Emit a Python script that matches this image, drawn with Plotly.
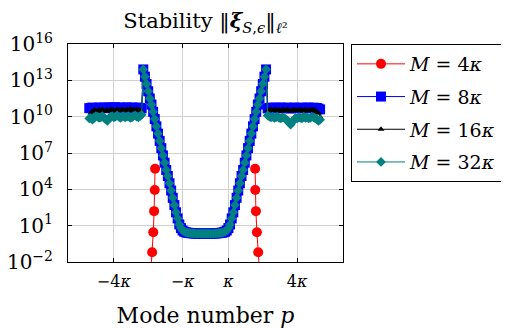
import plotly.graph_objects as go

# ---------------- data ----------------
KAPPA = 14                      # mode numbers per kappa
modes = list(range(-71, 71))    # mode numbers p used by the dense series

# log10 of ||xi|| on the V-shaped core (p = -38 ... 37), shared shape
left_arm = [13.9, 13.3, 12.7, 12.1, 11.5, 11.0, 10.4, 9.8, 9.2, 8.6, 8.0, 7.4, 6.8,
            6.2, 5.6, 5.1, 4.5, 3.9, 3.3, 2.7, 2.1, 1.6, 1.1, 0.8, 0.6, 0.5, 0.45]
bottom = [0.42, 0.40, 0.38, 0.37, 0.36, 0.35, 0.35, 0.34, 0.34, 0.34, 0.34,
          0.34, 0.34, 0.34, 0.34, 0.35, 0.35, 0.36, 0.37, 0.38, 0.40, 0.42]
right_arm = [0.45, 0.5, 0.6, 0.8, 1.1, 1.6, 2.1, 2.7, 3.3, 3.9, 4.5, 5.1, 5.6, 6.2,
             6.8, 7.4, 8.0, 8.6, 9.2, 9.8, 10.4, 11.0, 11.5, 12.1, 12.7, 13.3, 13.9]

# plateaus (log10), p = -71 ... -39 and p = 38 ... 70
m8_left = [10.7, 10.72, 10.75, 10.7, 10.68, 10.72, 10.75, 10.7, 10.73, 10.75, 10.7,
           10.72, 10.76, 10.74, 10.7, 10.75, 10.78, 10.72, 10.7, 10.75, 10.72, 10.7,
           10.74, 10.76, 10.72, 10.7, 10.75, 10.73, 10.7, 10.72, 10.75, 10.7, 10.68]
m8_right = [10.68, 10.72, 10.75, 10.7, 10.72, 10.74, 10.7, 10.72, 10.75, 10.73, 10.7,
            10.72, 10.74, 10.7, 10.68, 10.72, 10.75, 10.7, 10.72, 10.73, 10.7, 10.74,
            10.72, 10.7, 10.73, 10.75, 10.7, 10.72, 10.74, 10.7, 10.72, 10.66, 10.6]
m16_left = [10.0, 10.3, 10.45, 10.55, 10.5, 10.45, 10.55, 10.5, 10.6, 10.45, 10.5,
            10.55, 10.45, 10.6, 10.5, 10.55, 10.45, 10.6, 10.55, 10.5, 10.6, 10.5,
            10.55, 10.6, 10.5, 10.65, 10.55, 10.6, 10.5, 10.6, 10.55, 10.5, 10.45]
m16_right = [10.5, 10.55, 10.6, 10.5, 10.55, 10.6, 10.5, 10.55, 10.45, 10.6, 10.55,
             10.5, 10.6, 10.5, 10.45, 10.55, 10.6, 10.5, 10.55, 10.5, 10.6, 10.55,
             10.45, 10.6, 10.5, 10.55, 10.5, 10.6, 10.45, 10.55, 10.4, 10.3, 10.0]
m32_left = [9.85, 9.9, 9.75, 9.95, 10.05, 10.0, 9.9, 9.95, 10.05, 9.9, 9.8,
            9.65, 9.85, 10.0, 10.05, 9.95, 10.0, 10.1, 10.0, 9.9, 10.0, 10.05,
            9.95, 10.0, 10.05, 9.9, 9.95, 10.05, 10.1, 10.0, 9.95, 10.05, 10.15]
m32_right = [10.1, 10.0, 9.95, 10.0, 9.9, 9.95, 10.0, 9.9, 9.85, 9.95, 9.9,
             9.8, 9.7, 9.5, 9.35, 9.55, 9.75, 9.9, 9.85, 9.95, 9.9, 9.85,
             10.0, 9.9, 9.95, 9.85, 9.9, 10.0, 9.95, 9.85, 9.8, 9.65, 9.75]

# M = 4 kappa: two steep branches (mode number, log10 value)
m4_x = [-33.5, -32.6, -31.9, -31.4, -31.0, -30.8, None, 30.3, 30.4, 30.8, 31.4, 32.2, 33.1]
m4_log = [-2.95, -1.2, 0.45, 2.2, 3.95, 5.7, None, 5.7, 3.95, 2.2, 0.45, -1.2, -2.95]

labels = ["<i>M</i> = 4<i>κ</i>", "<i>M</i> = 8<i>κ</i>",
          "<i>M</i> = 16<i>κ</i>", "<i>M</i> = 32<i>κ</i>"]
x_tick_mult = [-4, -1, 1, 4]
x_tick_text = ["−4<i>κ</i>", "−<i>κ</i>", "<i>κ</i>", "4<i>κ</i>"]
y_tick_exp = [-2, 1, 4, 7, 10, 13, 16]
y_tick_text = ["10<sup>−2</sup>", "10<sup>1</sup>", "10<sup>4</sup>", "10<sup>7</sup>",
               "10<sup>10</sup>", "10<sup>13</sup>", "10<sup>16</sup>"]
y_range_exp = [-2, 16]


def to_val(logs):
    return [None if v is None else 10 ** v for v in logs]


core = left_arm + bottom + right_arm

fig = go.Figure()
fig.add_trace(go.Scatter(
    x=m4_x, y=to_val(m4_log), name=labels[0], mode="lines+markers",
    line=dict(color="#ff0000", width=1), connectgaps=False,
    marker=dict(symbol="circle", size=10, color="#ff0000"), legendgroup="a"))
fig.add_trace(go.Scatter(
    x=modes, y=to_val(m8_left + core + m8_right), name=labels[1], mode="lines+markers",
    line=dict(color="#0000ff", width=1),
    marker=dict(symbol="square", size=10, color="#0000ff"), legendgroup="b"))
fig.add_trace(go.Scatter(
    x=modes, y=to_val(m16_left + core + m16_right), name=labels[2], mode="lines+markers",
    line=dict(color="#000000", width=1),
    marker=dict(symbol="triangle-up", size=6, color="#000000"), legendgroup="c"))
fig.add_trace(go.Scatter(
    x=modes, y=to_val(m32_left + core + m32_right), name=labels[3], mode="lines+markers",
    line=dict(color="#008080", width=1),
    marker=dict(symbol="diamond", size=7.5, color="#008080"), legendgroup="d"))

# the page body keeps an 8 px margin, so the figure is 8 px smaller each way
W, H = 501, 320
FONT = "DejaVu Serif"
fig.update_layout(
    width=W, height=H,
    margin=dict(l=60, r=166, t=36, b=66, autoexpand=False),
    paper_bgcolor="white", plot_bgcolor="white",
    font=dict(family=FONT, color="black"),
    title=dict(text="Stability ‖<b><i>ξ</i></b><sub><i>S</i>,<i>ϵ</i></sub>‖<sub><i>ℓ</i>²</sub>",
               x=0.5, xref="paper", xanchor="center",
               y=1 - 13 / H, yref="container", yanchor="middle",
               font=dict(size=21, family=FONT)),
    legend=dict(x=(351 - 68) / 275, y=1, xanchor="left", yanchor="top",
                bordercolor="black", borderwidth=1, bgcolor="white",
                font=dict(size=19, family=FONT), traceorder="grouped",
                tracegroupgap=5, itemwidth=48),
    showlegend=True,
)
fig.update_xaxes(
    range=[-6 * KAPPA, 6 * KAPPA], automargin=False,
    tickvals=[m * KAPPA for m in x_tick_mult], ticktext=x_tick_text,
    tickfont=dict(size=16, family=FONT),
    showgrid=True, gridcolor="#d0d0d0", gridwidth=1,
    showline=True, linecolor="black", linewidth=1, mirror="ticks",
    ticks="inside", ticklen=4, tickcolor="black", zeroline=False,
    ticklabelstandoff=5,
    title=dict(text="Mode number <i>p</i>", font=dict(size=22, family=FONT), standoff=17),
)
fig.update_yaxes(
    type="log", range=y_range_exp, automargin=False,
    tickvals=[10 ** e for e in y_tick_exp], ticktext=y_tick_text,
    tickfont=dict(size=20, family=FONT),
    showgrid=True, gridcolor="#d0d0d0", gridwidth=1,
    showline=True, linecolor="black", linewidth=1, mirror="ticks",
    ticks="inside", ticklen=4, tickcolor="black", zeroline=False,
    ticklabelstandoff=10,
)

fig.write_html("out.html")
